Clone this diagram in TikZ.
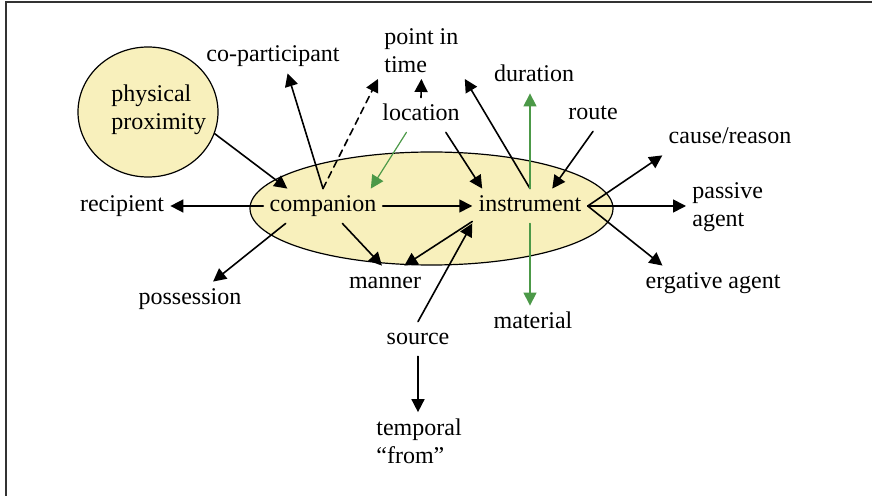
\documentclass[tikz,border=0pt]{standalone}
\usepackage{fontspec}
\setmainfont{Liberation Serif}
\usepackage{tikz}
\usetikzlibrary{arrows.meta,shapes.geometric}
\definecolor{blobyellow}{RGB}{248,240,188}
\definecolor{linkgreen}{RGB}{76,153,72}

\begin{document}
\begin{tikzpicture}
		[x=.5pt,y=-.5pt,line cap=round,
		%Styles
		>={Triangle[length=6.5pt,width=6.5pt]},
		link/.style={->,line width=.8pt},
		green link/.style={->,line width=.6pt,color=linkgreen},
		loose link/.style={dash pattern=on 3.5pt off 2.5pt},
		blob/.style={ellipse,draw,fill=blobyellow,inner sep=0pt,line width=.6pt},
		role/.style={font=\fontsize{12}{14}\selectfont,inner sep=3pt,text height=8.5pt,text depth=2.5pt,anchor=base},
		role two/.style={font=\fontsize{12}{14}\selectfont,inner sep=3pt,align=left,anchor=west}
		]
		
		\useasboundingbox (0,0) rectangle (872,496);
		\draw[line width=1pt,black!80] (5.5,496) -- (5.5,2.5) -- (872,2.5);
		
		\node[blob,minimum width=70pt,minimum height=65pt] (physprox) at (148,112) {};
		\node[role two] (physlabel) at (105,110) {physical\\proximity};
		\node[blob,minimum width=181.5pt,minimum height=56.5pt] (core) at (431.5,208.5) {};
		
		\node[role] (recip) at (122,212) {recipient};
		\node[role] (comp) at (323,212) {companion};
		\node[role] (instr) at (530,212) {instrument};
		\node[role] (copart) at (273,62) {co-participant};
		\node[role two] (ptime) at (378,50.5) {point in\\time};
		\node[role] (loc) at (421,121) {location};
		\node[role] (dur) at (534,82) {duration};
		\node[role] (route) at (593,120) {route};
		\node[role] (cause) at (730,144) {cause/reason};
		\node[role two] (passive) at (686,207) {passive\\agent};
		\node[role] (erg) at (713,289) {ergative agent};
		\node[role] (mat) at (533,329) {material};
		\node[role] (manner) at (385,289) {manner};
		\node[role] (poss) at (190,305) {possession};
		\node[role] (source) at (418,345) {source};
		\node[role two] (temporal) at (370,441) {temporal\\“from”};
		
		\path[link]
			(physprox.-18) edge (comp.154)
			(comp.north) edge (copart.-50)
				edge[loose link] (ptime.south west)
			(comp.west) edge (recip.east)
			(comp.east) edge (instr.west)
			(comp.-42) edge (manner.100)
			(comp.-155) edge (poss.37)
			(loc.north) edge (ptime.south)
			(loc.-35) edge (instr.160)
			(route.south) edge (instr.38)
			(instr.north) edge (ptime.south east)
			(instr.east) edge (cause.south west)
				edge (passive.west |- instr.east)
				edge (erg.161)
			(instr.-165) edge (manner.42)
			(source.north) edge (instr.south west)
			(source.south) edge (source.south |- temporal.north);
		\path[green link]
			(loc.-130) edge (comp.20)
			(instr.north) edge (instr.north |- dur.south)
			(instr.south) edge (instr.south |- mat.north);
	\end{tikzpicture}
\end{document}
